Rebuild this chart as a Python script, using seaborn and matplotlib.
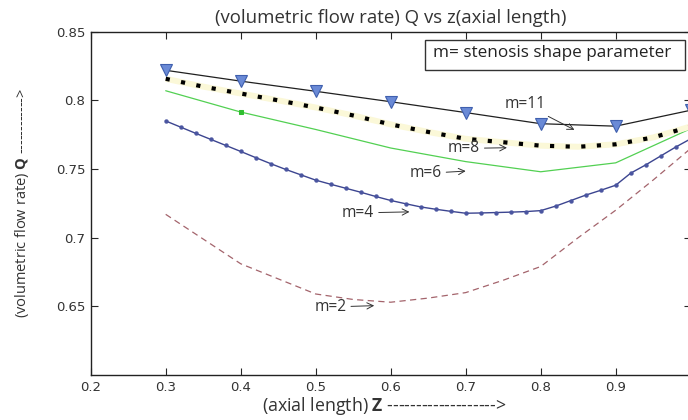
import numpy as np
import matplotlib
matplotlib.use("Agg")
import matplotlib.pyplot as plt
from matplotlib.patches import Rectangle
import seaborn as sns

# Flow rate Q along the axial length z for several stenosis shape parameters m
z_m11 = [0.3, 0.4, 0.5, 0.6, 0.7, 0.8, 0.9, 1.0]
q_m11 = [0.8219, 0.8140, 0.8066, 0.7990, 0.7911, 0.7830, 0.7812, 0.7928]

z_m8 = [0.30, 0.35, 0.40, 0.45, 0.50, 0.55, 0.60, 0.65, 0.70, 0.75, 0.80, 0.85, 0.90, 0.95, 1.00]
q_m8 = [0.8157, 0.8100, 0.8050, 0.8000, 0.7948, 0.7890, 0.7825, 0.7770, 0.7720, 0.7695,
        0.7670, 0.7662, 0.7680, 0.7730, 0.7810]

z_m6 = [0.3, 0.4, 0.5, 0.6, 0.7, 0.8, 0.9, 1.0]
q_m6 = [0.8070, 0.7915, 0.7788, 0.7653, 0.7554, 0.7480, 0.7545, 0.7794]

z_m4 = [0.30, 0.32, 0.34, 0.36, 0.38, 0.40, 0.42, 0.44, 0.46, 0.48, 0.50, 0.52,
        0.54, 0.56, 0.58, 0.60, 0.62, 0.64, 0.66, 0.68, 0.70, 0.72, 0.74, 0.76,
        0.78, 0.80, 0.82, 0.84, 0.86, 0.88, 0.90, 0.92, 0.94, 0.96, 0.98, 1.00]
q_m4 = [0.7850, 0.7805, 0.7760, 0.7716, 0.7672, 0.7628, 0.7583, 0.7539, 0.7497, 0.7458,
        0.7419, 0.7389, 0.7360, 0.7331, 0.7300, 0.7271, 0.7247, 0.7224, 0.7207, 0.7192,
        0.7178, 0.7180, 0.7183, 0.7186, 0.7190, 0.7197, 0.7230, 0.7270, 0.7310, 0.7345,
        0.7382, 0.7470, 0.7530, 0.7595, 0.7660, 0.7720]

z_m2 = [0.30, 0.35, 0.40, 0.45, 0.50, 0.55, 0.60, 0.65, 0.70, 0.75, 0.80, 0.85, 0.90, 0.95, 1.00]
q_m2 = [0.7170, 0.6990, 0.6810, 0.6700, 0.6590, 0.6550, 0.6530, 0.6560, 0.6600, 0.6690,
        0.6790, 0.7000, 0.7200, 0.7420, 0.7650]

x_ticks = [0.2, 0.3, 0.4, 0.5, 0.6, 0.7, 0.8, 0.9, 1.0]
x_tick_labels = ["0.2", "0.3", "0.4", "0.5", "0.6", "0.7", "0.8", "0.9", ""]
y_ticks = [0.65, 0.7, 0.75, 0.8, 0.85]
y_tick_labels = ["0.65", "0.7", "0.75", "0.8", "0.85"]

# curve labels: text, text anchor (z, Q), arrow tip (z, Q)
curve_labels = [
    ("m=11", (0.752, 0.797), (0.845, 0.7785)),
    ("m=8", (0.676, 0.7650), (0.755, 0.7655)),
    ("m=6", (0.625, 0.7468), (0.700, 0.7485)),
    ("m=4", (0.535, 0.7180), (0.625, 0.7188)),
    ("m=2", (0.498, 0.6495), (0.578, 0.6505)),
]

sns.set_style("white")
plt.rcParams["font.family"] = ["Open Sans", "DejaVu Sans"]
plt.rcParams["mathtext.fontset"] = "custom"
plt.rcParams["mathtext.bf"] = "Open Sans:bold"
plt.rcParams["mathtext.rm"] = "Open Sans"

fig = plt.figure(figsize=(6.88, 4.20), dpi=100)
ax = fig.add_axes([90.7 / 688, 45 / 420, 600 / 688, 343.3 / 420])

# m = 2 : dashed
sns.lineplot(x=z_m2, y=q_m2, ax=ax, color="#a4646c", linewidth=0.9,
             linestyle=(0, (5, 3.5)))
# m = 4 : line with small dot markers
sns.lineplot(x=z_m4, y=q_m4, ax=ax, color="#3c4590", linewidth=1.0,
             marker="o", markersize=2.8, markerfacecolor="#4a55a0",
             markeredgecolor="#4a55a0", markeredgewidth=0.3)
# m = 6 : thin green
sns.lineplot(x=z_m6, y=q_m6, ax=ax, color="#52d052", linewidth=0.9,
             marker="s", markersize=2.5, markevery=[1],
             markerfacecolor="#2fbf2f", markeredgecolor="#2fbf2f")
# m = 8 : pale band under a heavy black dotted line
sns.lineplot(x=z_m8, y=q_m8, ax=ax, color="#fbf8d8", linewidth=4.3,
             solid_capstyle="butt")
sns.lineplot(x=z_m8, y=q_m8, ax=ax, color="black", linewidth=3.0,
             linestyle=(0, (1, 2.75)), dash_capstyle="butt")
# m = 11 : thin black with triangle markers
sns.lineplot(x=z_m11, y=q_m11, ax=ax, color="#202020", linewidth=0.9,
             marker="v", markersize=8.5, markerfacecolor="#6a8ad6",
             markeredgecolor="#3f5fae", markeredgewidth=0.8)

for text, xy_text, xy_tip in curve_labels:
    ax.annotate(text, xy=xy_tip, xytext=xy_text, ha="left", va="center",
                fontsize=11.2, color="#333333",
                arrowprops=dict(arrowstyle="->", lw=0.7, color="#333333",
                                shrinkA=1, shrinkB=0))

# note box in the upper right
ax.add_patch(Rectangle((0.6457, 0.8220), 0.3468, 0.0219, facecolor="white",
                       edgecolor="#333333", linewidth=1.0, zorder=5))
ax.text(0.6560, 0.8345, "m= stenosis shape parameter", fontsize=12.3,
        color="#222222", ha="left", va="center", zorder=6)

ax.set_xlim(0.2, 1.0)
ax.set_ylim(0.6, 0.85)
ax.set_xticks(x_ticks)
ax.set_xticklabels(x_tick_labels, family="DejaVu Sans", fontsize=9.5, color="#333333")
ax.set_yticks(y_ticks)
ax.set_yticklabels(y_tick_labels, family="DejaVu Sans", fontsize=9.5, color="#333333")
ax.tick_params(direction="in", length=5, width=0.8, top=True, right=True,
               bottom=True, left=True, pad=4)
for side in ax.spines.values():
    side.set_linewidth(1.0)
    side.set_color("#222222")

ax.set_title("(volumetric flow rate) Q vs z(axial length)", fontsize=13.4,
             color="#333333", pad=6)
ax.set_xlabel(r"(axial length) $\mathbf{Z}$ ------------------->",
              fontsize=12.8, color="#333333")
ax.xaxis.set_label_coords(0.489, -0.058)
ax.set_ylabel(r"(volumetric flow rate) $\mathbf{Q}$ ------------>",
              fontsize=10.5, color="#333333")
ax.yaxis.set_label_coords(-0.100, 0.5)

fig.savefig("out.png", dpi=100)
